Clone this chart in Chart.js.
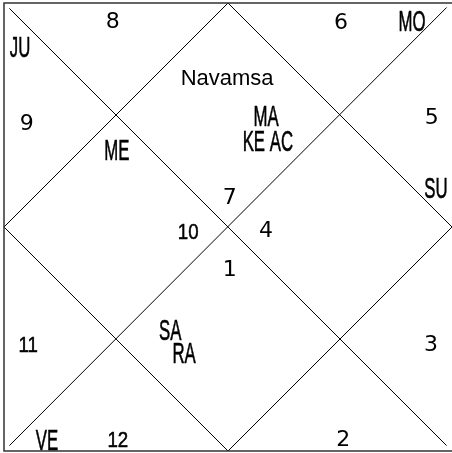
<!DOCTYPE html>
<html>
<head>
<meta charset="UTF-8">
<title>Navamsa</title>
<script src="https://cdn.jsdelivr.net/npm/chart.js"></script>
<style>
    body { margin: 0; background: #fff; }
    #wrap { width: 452px; height: 453px; }
</style>
</head>
<body>
<div id="wrap"><canvas id="chart" width="452" height="453"></canvas></div>
<script>
    // sign number sitting in each house, house 1 .. 12
    const houseSigns = [7, 8, 9, 10, 11, 12, 1, 2, 3, 4, 5, 6];
    // planet text lines and the house they belong to
    const planetLines = ['MA', 'KE AC', 'MO', 'JU', 'ME', 'SA', 'RA', 'SU', 'VE'];
    const planetHouses = [1, 1, 12, 3, 4, 7, 7, 11, 6];
    const chartTitle = 'Navamsa';

    // where the labels go (chart units, 0..100 both ways)
    const signSpots = [
        [50.4, 56.9], [24.3, 96.2], [5.1, 73.4], [41.1, 49.1],
        [5.4, 23.9], [25.4, 2.7], [50.4, 40.8], [75.7, 2.9],
        [95.3, 24.1], [58.5, 49.6], [95.5, 74.8], [75.2, 96.0]
    ];
    const planetSpots = [
        [58.5, 74.8], [58.9, 69.4], [91.1, 96.0], [3.6, 90.2],
        [25.2, 67.2], [37.1, 27.2], [40.2, 21.9], [96.4, 58.9], [9.6, 2.5]
    ];
    const titleSpot = [49.8, 83.5];

    function drawText(ctx, txt, px, py, font, cap, sx, bold) {
        ctx.save();
        ctx.font = font;
        ctx.textAlign = 'center';
        ctx.textBaseline = 'alphabetic';
        ctx.translate(px, py + cap / 2);
        ctx.scale(sx, 1);
        ctx.fillText(txt, 0, 0);
        if (bold) {
            ctx.lineWidth = bold;
            ctx.strokeText(txt, 0, 0);
        }
        ctx.restore();
    }

    const labelPlugin = {
        id: 'houseLabels',
        afterDatasetsDraw(chart) {
            const ctx = chart.ctx;
            const xs = chart.scales.x, ys = chart.scales.y;
            ctx.fillStyle = '#000';
            ctx.strokeStyle = '#000';
            houseSigns.forEach((s, i) => {
                const px = xs.getPixelForValue(signSpots[i][0]);
                const py = ys.getPixelForValue(signSpots[i][1]);
                if (s >= 10) {
                    drawText(ctx, String(s), px, py, '22px "Liberation Sans"', 15.5, 0.85, 0.5);
                } else {
                    drawText(ctx, String(s), px, py, '22px "DejaVu Sans"', 16, 1, 0);
                }
            });
            planetLines.forEach((p, i) => {
                const px = xs.getPixelForValue(planetSpots[i][0]);
                const py = ys.getPixelForValue(planetSpots[i][1]);
                drawText(ctx, p, px, py, '30px "Liberation Sans"', 21, 0.56, 0.6);
            });
            drawText(ctx, chartTitle, xs.getPixelForValue(titleSpot[0]), ys.getPixelForValue(titleSpot[1]),
                '22px "Liberation Sans"', 16, 1, 0);
        }
    };

    const lineSet = (pts, width, color) => ({
        data: pts.map(p => ({ x: p[0], y: p[1] })),
        showLine: true,
        borderColor: color || '#000',
        borderWidth: width,
        pointRadius: 0,
        fill: false,
        clip: false
    });

    new Chart(document.getElementById('chart'), {
        type: 'scatter',
        data: {
            datasets: [
                // frame: top, left and bottom only (right side falls off the picture)
                lineSet([[100.5, 100], [0, 100], [0, 0], [100.5, 0]], 1.5, '#333'),
                lineSet([[1.2, 98.8], [98.8, 1.2]], 1),
                lineSet([[98.8, 99.0], [1.2, 1.2]], 1),
                lineSet([[50, 100], [100, 50], [50, 0], [0, 50], [50, 100]], 1)
            ]
        },
        options: {
            responsive: false,
            animation: false,
            layout: { padding: { left: 4, top: 3, right: 0, bottom: 2 } },
            plugins: { legend: { display: false }, tooltip: { enabled: false } },
            scales: {
                x: { type: 'linear', min: 0, max: 100, display: false },
                y: { type: 'linear', min: 0, max: 100, display: false }
            }
        },
        plugins: [labelPlugin]
    });
</script>
</body>
</html>
